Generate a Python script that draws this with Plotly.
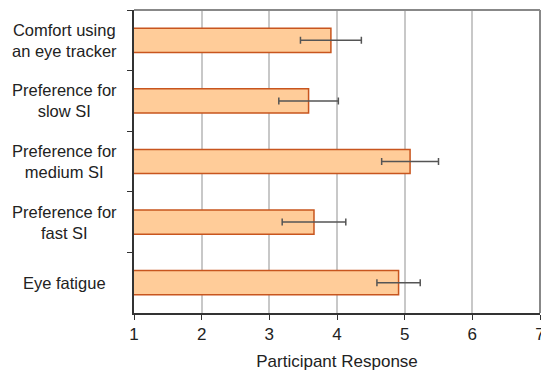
import plotly.graph_objects as go

categories = [
    "Comfort using<br>an eye tracker",
    "Preference for<br>slow SI",
    "Preference for<br>medium SI",
    "Preference for<br>fast SI",
    "Eye fatigue",
]
means = [3.91, 3.58, 5.08, 3.66, 4.91]
errors = [0.45, 0.44, 0.42, 0.47, 0.32]
x_ticks = [1, 2, 3, 4, 5, 6, 7]

FONT = "Liberation Sans, Arial"

fig = go.Figure()
fig.add_trace(go.Bar(
    y=categories,
    x=means,
    orientation="h",
    width=0.4,
    marker=dict(color="#FFCC99", line=dict(color="#C8551E", width=1.5)),
    error_x=dict(type="data", array=errors, visible=True,
                 color="#555555", thickness=1.5, width=3.5),
))

# centred multi-line category labels
for cat in categories:
    fig.add_annotation(
        x=-0.17, xref="paper", y=cat, yref="y",
        text=cat, showarrow=False, xanchor="center", yanchor="middle",
        align="center", font=dict(family=FONT, size=16.5, color="#222222"),
    )

# gray frame on top and right
fig.add_shape(type="line", xref="paper", yref="paper", x0=0, x1=1, y0=1, y1=1,
              line=dict(color="#888888", width=2))
fig.add_shape(type="line", xref="paper", yref="paper", x0=1, x1=1, y0=0, y1=1,
              line=dict(color="#888888", width=2))

fig.update_layout(
    width=541, height=374,
    margin=dict(l=134, r=1, t=10, b=61, autoexpand=False),
    paper_bgcolor="white", plot_bgcolor="white",
    showlegend=False,
    font=dict(family=FONT, size=16, color="#222222"),
    xaxis=dict(
        range=[1, 7], tickvals=x_ticks, ticks="outside", ticklen=5,
        tickcolor="#333333", showline=True, linecolor="#333333", linewidth=1.5,
        showgrid=True, gridcolor="#C8C8C8", gridwidth=1.5, zeroline=False,
        ticklabeloverflow="allow", automargin=False,
        title=dict(text="Participant Response", standoff=12,
                   font=dict(size=17)),
        tickfont=dict(size=17),
    ),
    yaxis=dict(
        categoryorder="array", categoryarray=categories, autorange="reversed",
        showticklabels=False, ticks="outside", ticklen=5, tickson="boundaries",
        tickcolor="#333333", showline=True, linecolor="#333333", linewidth=1.5,
        showgrid=False, automargin=False,
    ),
)

fig.write_html("out.html")
